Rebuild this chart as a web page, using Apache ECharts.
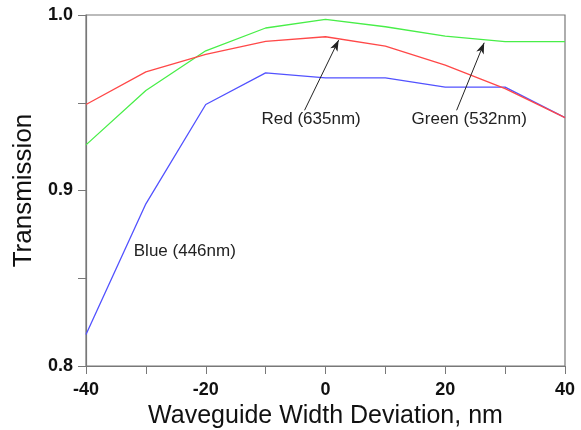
<!DOCTYPE html>
<html><head><meta charset="utf-8">
<script src="https://cdn.jsdelivr.net/npm/echarts@6/dist/echarts.min.js"></script>
<style>html,body{margin:0;padding:0;background:#fff}#c{width:581px;height:430px}</style>
</head><body><div id="c"></div>
<script>
const xValues = [-40, -30, -20, -10, 0, 10, 20, 30, 40];
const redValues = [0.949, 0.9676, 0.9775, 0.985, 0.9876, 0.9823, 0.9714, 0.958, 0.9415];
const greenValues = [0.926, 0.957, 0.9796, 0.9926, 0.9975, 0.9933, 0.988, 0.9848, 0.9848];
const blueValues = [0.818, 0.8924, 0.949, 0.967, 0.9642, 0.9642, 0.9589, 0.9589, 0.9415];
const xTickLabels = [-40, -20, 0, 20, 40];
const yTickLabels = [0.8, 0.9, 1.0];
const annotations = [
  {text: 'Red (635nm)', at: [-2.4, 0.9404], from: [-3.5, 0.9457], to: [2.2, 0.9857]},
  {text: 'Green (532nm)', at: [24, 0.9404], from: [21.9, 0.9457], to: [26.5, 0.9842]},
  {text: 'Blue (446nm)', at: [-23.5, 0.8653]}
];

const chart = echarts.init(document.getElementById('c'), null, {renderer: 'canvas'});
const FONT = '"Liberation Sans", Arial, sans-serif';
const pair = v => xValues.map((x, i) => [x, v[i]]);
const axisColor = '#787878';
const arrows = annotations.filter(a => a.from).map(a => [{coord: a.from}, {coord: a.to}]);

chart.setOption({
  animation: false,
  grid: {left: 86, right: 16, top: 15, bottom: 64, show: true, borderColor: axisColor, borderWidth: 1.2,
         containLabel: false, outerBoundsMode: 'none'},
  xAxis: {
    type: 'value', min: -40, max: 40, interval: 10,
    name: 'Waveguide Width Deviation, nm', nameLocation: 'middle', nameGap: 35,
    nameTextStyle: {fontFamily: FONT, fontSize: 25, color: '#111'},
    axisLine: {onZero: false, lineStyle: {color: axisColor, width: 1.2}},
    axisTick: {inside: false, length: 8, lineStyle: {color: axisColor}},
    splitLine: {show: false},
    axisLabel: {
      margin: 15, fontFamily: FONT, fontSize: 18, fontWeight: 'bold', color: '#111',
      formatter: v => xTickLabels.indexOf(v) >= 0 ? String(v) : ''
    }
  },
  yAxis: {
    type: 'value', min: 0.8, max: 1.0, interval: 0.05,
    name: 'Transmission', nameLocation: 'middle', nameGap: 42,
    nameTextStyle: {fontFamily: FONT, fontSize: 26, color: '#111'},
    axisLine: {show: true, onZero: false, lineStyle: {color: axisColor, width: 1.2}},
    axisTick: {show: true, inside: false, length: 8, lineStyle: {color: axisColor}},
    splitLine: {show: false},
    axisLabel: {
      margin: 13, fontFamily: FONT, fontSize: 18, fontWeight: 'bold', color: '#111',
      formatter: v => {
        const m = yTickLabels.find(t => Math.abs(t - v) < 1e-6);
        return m !== undefined ? m.toFixed(1) : '';
      }
    }
  },
  series: [
    {type: 'line', data: pair(redValues), symbol: 'none', lineStyle: {color: '#ff4848', width: 1.3}, z: 3,
     markLine: {silent: true, symbol: ['none', 'arrow'], symbolSize: [6, 11], label: {show: false},
       lineStyle: {color: '#222', width: 1, type: 'solid'}, data: arrows}},
    {type: 'line', data: pair(greenValues), symbol: 'none', lineStyle: {color: '#48ee48', width: 1.3}, z: 2},
    {type: 'line', data: pair(blueValues), symbol: 'none', lineStyle: {color: '#5252ff', width: 1.3}, z: 2}
  ]
});

chart.setOption({
  graphic: annotations.map(a => {
    const p = chart.convertToPixel({gridIndex: 0}, a.at);
    return {type: 'text', x: p[0], y: p[1], z: 100,
      style: {text: a.text, fontFamily: FONT, fontSize: 17, fill: '#222', align: 'center', verticalAlign: 'middle'}};
  })
});
</script></body></html>
